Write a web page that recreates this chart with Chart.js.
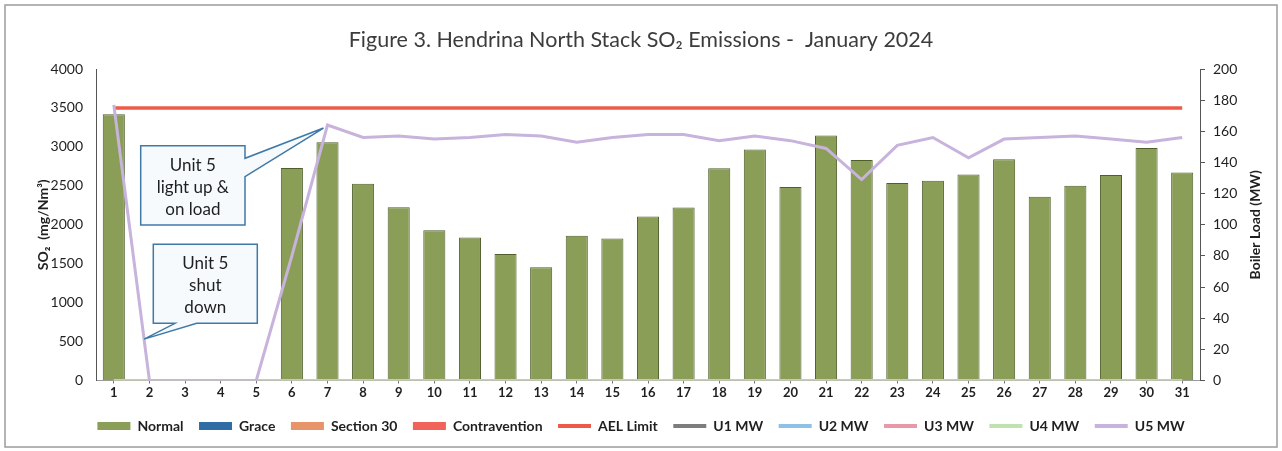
<!DOCTYPE html>
<html>
<head>
<meta charset="utf-8">
<script src="https://cdn.jsdelivr.net/npm/chart.js@4.4.1/dist/chart.umd.min.js"></script>
<style>
  html, body { margin: 0; padding: 0; background: #ffffff; }
  #wrap { position: relative; width: 1282px; height: 451px; }
</style>
</head>
<body>
<div id="wrap"><canvas id="chart" width="1282" height="451"></canvas></div>
<script>
// Days of January 2024
const days = ['1','2','3','4','5','6','7','8','9','10','11','12','13','14','15','16',
              '17','18','19','20','21','22','23','24','25','26','27','28','29','30','31'];

// Daily SO2 emissions (mg/Nm³) by compliance status
const normal = [3420, 0, 0, 0, 0, 2730, 3060, 2525, 2225, 1930, 1835, 1625, 1455, 1860, 1825, 2105,
                2220, 2725, 2965, 2485, 3145, 2830, 2535, 2565, 2645, 2840, 2360, 2500, 2640, 2985, 2670];
const grace = [];
const section30 = [];
const contravention = [];

// Atmospheric emission licence limit (mg/Nm³)
const aelLimit = [3500, 3500, 3500, 3500, 3500, 3500, 3500, 3500, 3500, 3500, 3500, 3500, 3500, 3500, 3500, 3500,
                  3500, 3500, 3500, 3500, 3500, 3500, 3500, 3500, 3500, 3500, 3500, 3500, 3500, 3500, 3500];

// Boiler load per unit (MW)
const u1MW = [0,0,0,0,0,0,0,0,0,0,0,0,0,0,0,0,0,0,0,0,0,0,0,0,0,0,0,0,0,0,0];
const u2MW = [0,0,0,0,0,0,0,0,0,0,0,0,0,0,0,0,0,0,0,0,0,0,0,0,0,0,0,0,0,0,0];
const u3MW = [0,0,0,0,0,0,0,0,0,0,0,0,0,0,0,0,0,0,0,0,0,0,0,0,0,0,0,0,0,0,0];
const u4MW = [0,0,0,0,0,0,0,0,0,0,0,0,0,0,0,0,0,0,0,0,0,0,0,0,0,0,0,0,0,0,0];
const u5MW = [177, 0, 0, 0, 0, 80, 164, 156, 157, 155, 156, 158, 157, 153, 156, 158,
              158, 154, 157, 154, 149, 129, 151, 156, 143, 155, 156, 157, 155, 153, 156];

// Axis ranges
const so2Axis = { min: 0, max: 4000, step: 500 };
const loadAxis = { min: 0, max: 200, step: 20 };

const FONT = 'Lato, "Open Sans", "DejaVu Sans", sans-serif';
const TEXT = '#1f1f1f';

// White page with a thin grey frame
const framePlugin = {
  id: 'frame',
  beforeDraw(chart) {
    const ctx = chart.ctx;
    ctx.save();
    ctx.fillStyle = '#ffffff';
    ctx.fillRect(0, 0, chart.width, chart.height);
    ctx.strokeStyle = '#9c9c9c';
    ctx.lineWidth = 1.5;
    ctx.strokeRect(5, 5, chart.width - 10, chart.height - 9);
    ctx.restore();
  }
};

// Vertical axis titles (both read bottom-to-top)
const axisTitlePlugin = {
  id: 'axisTitles',
  afterDraw(chart) {
    const ctx = chart.ctx;
    const a = chart.chartArea;
    const cy = (a.top + a.bottom) / 2;
    ctx.save();
    ctx.fillStyle = TEXT;
    ctx.font = 'bold 14px ' + FONT;
    ctx.textAlign = 'center';
    ctx.textBaseline = 'middle';
    [[43, 'SO\u2082  (mg/Nm\u00B3)'], [1255, 'Boiler Load (MW)']].forEach(([x, t]) => {
      ctx.save();
      ctx.translate(x, cy);
      ctx.rotate(-Math.PI / 2);
      ctx.fillText(t, 0, 0);
      ctx.restore();
    });
    ctx.restore();
  }
};

// Callout boxes pointing at the Unit 5 load trace
const calloutPlugin = {
  id: 'callouts',
  afterDatasetsDraw(chart) {
    const ctx = chart.ctx;
    const a = chart.chartArea;
    const u5 = chart.getDatasetMeta(9).data;
    const L = a.left, T = a.top;

    function box(x0, y0, x1, y1, wedge, tip, lines) {
      ctx.beginPath();
      ctx.moveTo(x0, y0);
      ctx.lineTo(x1, y0);
      if (wedge.side === 'right') {
        ctx.lineTo(x1, wedge.a);
        ctx.lineTo(tip.x, tip.y);
        ctx.lineTo(x1, wedge.b);
        ctx.lineTo(x1, y1);
        ctx.lineTo(x0, y1);
      } else {
        ctx.lineTo(x1, y1);
        ctx.lineTo(wedge.b, y1);
        ctx.lineTo(tip.x, tip.y);
        ctx.lineTo(wedge.a, y1);
        ctx.lineTo(x0, y1);
      }
      ctx.closePath();
      ctx.fillStyle = '#f6fafd';
      ctx.fill();
      ctx.strokeStyle = '#3f79a8';
      ctx.lineWidth = 1.5;
      ctx.stroke();

      ctx.fillStyle = TEXT;
      ctx.font = '17px ' + FONT;
      ctx.textAlign = 'center';
      ctx.textBaseline = 'middle';
      const cx = (x0 + x1) / 2;
      const cy = (y0 + y1) / 2 + 2;
      const lh = 22.2;
      lines.forEach((t, i) => ctx.fillText(t, cx, cy + (i - (lines.length - 1) / 2) * lh));
    }

    ctx.save();
    // light-up callout: tip at the day-7 load peak
    const p7 = u5[6];
    box(L + 44.7, T + 76.7, L + 149, T + 156,
        { side: 'right', a: T + 89.3, b: T + 107.7 },
        { x: p7.x - 4, y: p7.y + 3 },
        ['Unit 5', 'light up &', 'on load']);
    // shut-down callout: tip on the drop between day 1 and day 2
    const p1 = u5[0], p2 = u5[1], t = 0.85;
    box(L + 57.3, T + 175.3, L + 161.3, T + 254.3,
        { side: 'bottom', a: L + 79, b: L + 100.7 },
        { x: p1.x + (p2.x - p1.x) * t, y: p1.y + (p2.y - p1.y) * t },
        ['Unit 5', 'shut', 'down']);
    ctx.restore();
  }
};

const barStyle = (fill, edge) => ({
  type: 'bar', yAxisID: 'y', backgroundColor: fill, borderColor: edge, borderWidth: 1,
  grouped: false, categoryPercentage: 1, barPercentage: 0.62, order: 10
});
const lineStyle = (color, width, order) => ({
  type: 'line', yAxisID: 'y1', borderColor: color, backgroundColor: color, borderWidth: width,
  pointRadius: 0, pointHoverRadius: 0, tension: 0, fill: false, order: order
});

const plainNumber = v => String(v);

const chart = new Chart(document.getElementById('chart'), {
  data: {
    labels: days,
    datasets: [
      { label: 'Normal', data: normal, ...barStyle('#8a9e58', '#4f5f2c') },
      { label: 'Grace', data: grace, ...barStyle('#2f6ca3', '#2a5d8c') },
      { label: 'Section 30', data: section30, ...barStyle('#e8946a', '#d98358') },
      { label: 'Contravention', data: contravention, ...barStyle('#f0625a', '#e0524c') },
      { label: 'AEL Limit', data: aelLimit, ...lineStyle('#ee5a4a', 3.5, 2), yAxisID: 'y' },
      { label: 'U1 MW', data: u1MW, ...lineStyle('#7d7d7d', 2.5, 6) },
      { label: 'U2 MW', data: u2MW, ...lineStyle('#8fc0e6', 2.5, 5) },
      { label: 'U3 MW', data: u3MW, ...lineStyle('#e69aa9', 2.5, 4) },
      { label: 'U4 MW', data: u4MW, ...lineStyle('#bfe2b0', 2.5, 3) },
      { label: 'U5 MW', data: u5MW, ...lineStyle('#c7b3dc', 3, 1) }
    ]
  },
  options: {
    responsive: false,
    animation: false,
    devicePixelRatio: 1,
    layout: { padding: { left: 0, right: 0, top: 0, bottom: 8 } },
    font: { family: FONT },
    plugins: {
      tooltip: { enabled: false },
      title: {
        display: true,
        text: 'Figure 3. Hendrina North Stack SO\u2082 Emissions -  January 2024',
        color: '#3c3c3c',
        font: { family: FONT, size: 21.5, weight: 'normal', lineHeight: 1.2 },
        padding: { top: 27.1, bottom: 16.1 }
      },
      legend: {
        position: 'bottom',
        labels: {
          color: TEXT,
          font: { family: FONT, size: 14, weight: 'bold' },
          usePointStyle: true,
          pointStyleWidth: 33,
          boxHeight: 8,
          padding: 15.5,
          sort: (a, b) => a.datasetIndex - b.datasetIndex,
          generateLabels(c) {
            return Chart.defaults.plugins.legend.labels.generateLabels(c).map(item => {
              const ds = c.data.datasets[item.datasetIndex];
              if (ds.type === 'line') {
                item.pointStyle = 'line';
                item.strokeStyle = ds.borderColor;
                item.lineWidth = 4;
              } else {
                item.pointStyle = 'rect';
                item.fillStyle = ds.backgroundColor;
                item.strokeStyle = ds.backgroundColor;
                item.lineWidth = 0;
              }
              return item;
            });
          }
        }
      }
    },
    scales: {
      x: {
        type: 'category',
        offset: true,
        grid: { display: true, drawOnChartArea: false, drawTicks: true, tickLength: 3, offset: false, color: '#777' },
        border: { display: true, color: '#9a9a9a', width: 1 },
        ticks: { color: TEXT, font: { family: FONT, size: 13, weight: 'bold' }, padding: 2, maxRotation: 0, autoSkip: false },
        afterFit(s) { s.height = 23; }
      },
      y: {
        position: 'left',
        min: so2Axis.min, max: so2Axis.max,
        grid: { display: true, drawOnChartArea: false, drawTicks: false },
        border: { display: true, color: '#555', width: 1 },
        ticks: { stepSize: so2Axis.step, color: TEXT, font: { family: FONT, size: 14 }, padding: 13, callback: plainNumber },
        afterFit(s) { s.width = 96; }
      },
      y1: {
        position: 'right',
        min: loadAxis.min, max: loadAxis.max,
        grid: { display: true, drawOnChartArea: false, drawTicks: true, tickLength: 5, color: '#555' },
        border: { display: true, color: '#555', width: 1 },
        ticks: { stepSize: loadAxis.step, color: TEXT, font: { family: FONT, size: 14 }, padding: 8, callback: plainNumber },
        afterFit(s) { s.width = 82; }
      }
    }
  },
  plugins: [framePlugin, axisTitlePlugin, calloutPlugin]
});
</script>
</body>
</html>
